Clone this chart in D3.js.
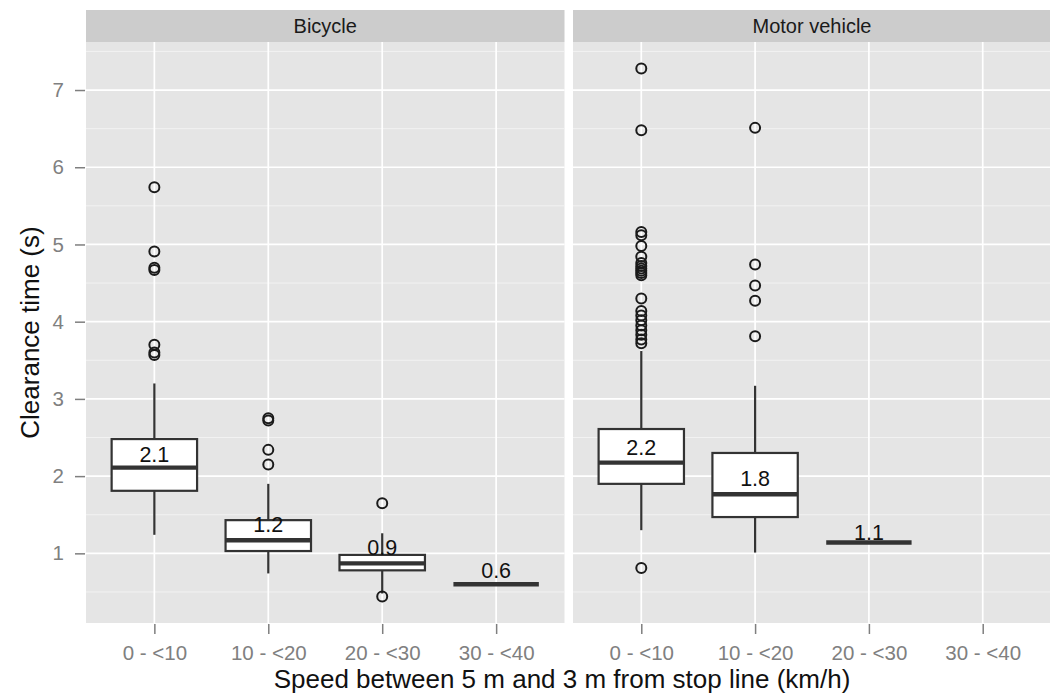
<!DOCTYPE html>
<html>
<head>
<meta charset="utf-8">
<script src="https://cdn.jsdelivr.net/npm/d3@7/dist/d3.min.js"></script>
<style>
  html, body { margin: 0; padding: 0; background: #ffffff; }
  svg { display: block; font-family: "Liberation Sans", Arial, sans-serif; }
</style>
</head>
<body>
<svg id="chart" width="1050" height="698"></svg>
<script>
// Facets and speed bins
const facets = ["Bicycle", "Motor vehicle"];
const speedBins = ["0 - <10", "10 - <20", "20 - <30", "30 - <40"];
const yTicks = [1, 2, 3, 4, 5, 6, 7];
const yMinorTicks = [0.5, 1.5, 2.5, 3.5, 4.5, 5.5, 6.5, 7.5];

// Box statistics, one entry per (facet, bin) group
const boxFacet   = ["Bicycle", "Bicycle", "Bicycle", "Bicycle", "Motor vehicle", "Motor vehicle", "Motor vehicle"];
const boxBin     = ["0 - <10", "10 - <20", "20 - <30", "30 - <40", "0 - <10", "10 - <20", "20 - <30"];
const whiskerLow = [1.24, 0.74, 0.48, 0.60, 1.30, 1.01, 1.14];
const lowerHinge = [1.81, 1.03, 0.78, 0.60, 1.90, 1.47, 1.14];
const medianVal  = [2.11, 1.17, 0.87, 0.60, 2.175, 1.765, 1.14];
const upperHinge = [2.48, 1.43, 0.98, 0.60, 2.61, 2.30, 1.14];
const whiskerHigh = [3.20, 1.90, 1.26, 0.60, 3.62, 3.17, 1.14];
const outliers = [
  [5.74, 4.91, 4.70, 4.67, 3.70, 3.60, 3.57],
  [2.75, 2.72, 2.34, 2.15],
  [1.65, 0.44],
  [],
  [7.28, 6.48, 5.16, 5.12, 4.98, 4.84, 4.76, 4.72, 4.69, 4.66, 4.63, 4.60,
   4.30, 4.14, 4.08, 4.02, 3.95, 3.89, 3.83, 3.77, 3.72, 0.81],
  [6.51, 4.74, 4.47, 4.27, 3.81],
  []
];

const yTitle = "Clearance time (s)";
const xTitle = "Speed between 5 m and 3 m from stop line (km/h)";

const svg = d3.select("#chart");

// Layout
const panelTop = 42, panelBottom = 623;
const stripTop = 10;
const panelX = { "Bicycle": [86, 564.5], "Motor vehicle": [573, 1051] };

// y extent from all values with a 5% expansion on each side
const allVals = [].concat(whiskerLow, whiskerHigh, ...outliers);
const [vMin, vMax] = d3.extent(allVals);
const pad = (vMax - vMin) * 0.05;
const y = d3.scaleLinear().domain([vMin - pad, vMax + pad]).range([panelBottom, panelTop]);

const xScales = {};
facets.forEach(f => {
  xScales[f] = d3.scalePoint().domain(speedBins).range(panelX[f]).padding(0.6);
});

const labelFmt = d3.format(".1f");

facets.forEach(f => {
  const x = xScales[f];
  const [x0, x1] = panelX[f];
  const g = svg.append("g").attr("class", "panel");

  // strip
  g.append("rect").attr("x", x0).attr("y", stripTop).attr("width", x1 - x0).attr("height", panelTop - stripTop)
    .attr("fill", "#cccccc");
  g.append("text").attr("x", (x0 + x1) / 2).attr("y", (stripTop + panelTop) / 2).attr("dy", "0.36em")
    .attr("text-anchor", "middle").attr("font-size", 20).attr("fill", "#1a1a1a").text(f);

  // background
  g.append("rect").attr("x", x0).attr("y", panelTop).attr("width", x1 - x0).attr("height", panelBottom - panelTop)
    .attr("fill", "#e5e5e5");

  // minor grid
  g.selectAll("line.minor").data(yMinorTicks.filter(v => y(v) > panelTop && y(v) < panelBottom)).enter()
    .append("line").attr("class", "minor")
    .attr("x1", x0).attr("x2", x1).attr("y1", d => y(d)).attr("y2", d => y(d))
    .attr("stroke", "#f2f2f2").attr("stroke-width", 1);

  // major grid
  g.selectAll("line.majorY").data(yTicks).enter().append("line").attr("class", "majorY")
    .attr("x1", x0).attr("x2", x1).attr("y1", d => y(d)).attr("y2", d => y(d))
    .attr("stroke", "#ffffff").attr("stroke-width", 1.7);
  g.selectAll("line.majorX").data(speedBins).enter().append("line").attr("class", "majorX")
    .attr("x1", d => x(d)).attr("x2", d => x(d)).attr("y1", panelTop).attr("y2", panelBottom)
    .attr("stroke", "#ffffff").attr("stroke-width", 1.7);

  // x axis
  const xAxis = d3.axisBottom(x).tickSize(10).tickPadding(11);
  const ax = svg.append("g").attr("transform", `translate(0,${panelBottom + 1})`).call(xAxis);
  ax.select(".domain").remove();
  ax.selectAll(".tick line").attr("stroke", "#7f7f7f").attr("stroke-width", 1.5);
  ax.selectAll(".tick text").attr("fill", "#808080").attr("font-size", 20.5)
    .attr("font-family", "Liberation Sans, Arial, sans-serif");
});

// y axis
const yAxis = d3.axisLeft(y).tickValues(yTicks).tickSize(10).tickPadding(11).tickFormat(d3.format("d"));
const ay = svg.append("g").attr("transform", `translate(${panelX["Bicycle"][0] - 1},0)`).call(yAxis);
ay.select(".domain").remove();
ay.selectAll(".tick line").attr("stroke", "#7f7f7f").attr("stroke-width", 1.5);
ay.selectAll(".tick text").attr("fill", "#808080").attr("font-size", 20.5)
  .attr("font-family", "Liberation Sans, Arial, sans-serif");

// boxplots
const groups = boxFacet.map((f, i) => ({
  facet: f, bin: boxBin[i], lo: whiskerLow[i], q1: lowerHinge[i], med: medianVal[i],
  q3: upperHinge[i], hi: whiskerHigh[i], out: outliers[i]
}));

const boxG = svg.append("g").attr("class", "boxes");
groups.forEach(d => {
  const x = xScales[d.facet];
  const cx = x(d.bin);
  const halfW = x.step() * 0.75 / 2;
  const g = boxG.append("g");
  // whiskers
  g.append("line").attr("x1", cx).attr("x2", cx).attr("y1", y(d.q3)).attr("y2", y(d.hi))
    .attr("stroke", "#333333").attr("stroke-width", 2.2);
  g.append("line").attr("x1", cx).attr("x2", cx).attr("y1", y(d.q1)).attr("y2", y(d.lo))
    .attr("stroke", "#333333").attr("stroke-width", 2.2);
  // box
  g.append("rect").attr("x", cx - halfW).attr("y", y(d.q3)).attr("width", halfW * 2)
    .attr("height", Math.max(0, y(d.q1) - y(d.q3)))
    .attr("fill", "#ffffff").attr("stroke", "#333333").attr("stroke-width", 2.2);
  // median
  g.append("line").attr("x1", cx - halfW).attr("x2", cx + halfW).attr("y1", y(d.med)).attr("y2", y(d.med))
    .attr("stroke", "#333333").attr("stroke-width", 4.4);
  // outliers
  g.selectAll("circle").data(d.out).enter().append("circle")
    .attr("cx", cx).attr("cy", v => y(v)).attr("r", 5)
    .attr("fill", "none").attr("stroke", "#1a1a1a").attr("stroke-width", 2);
});

// median value labels
const labG = svg.append("g").attr("class", "labels");
groups.forEach(d => {
  const x = xScales[d.facet];
  const lab = labelFmt(d.med);
  labG.append("text").attr("x", x(d.bin)).attr("y", y(+lab) - 6)
    .attr("text-anchor", "middle").attr("font-size", 21.5).attr("fill", "#111111").text(lab);
});

// axis titles
svg.append("text").attr("x", 562).attr("y", 688)
  .attr("text-anchor", "middle").attr("font-size", 26).attr("fill", "#111111").text(xTitle);
svg.append("text").attr("transform", `translate(39,${(panelTop + panelBottom) / 2}) rotate(-90)`)
  .attr("text-anchor", "middle").attr("font-size", 26).attr("fill", "#111111").text(yTitle);
</script>
</body>
</html>
